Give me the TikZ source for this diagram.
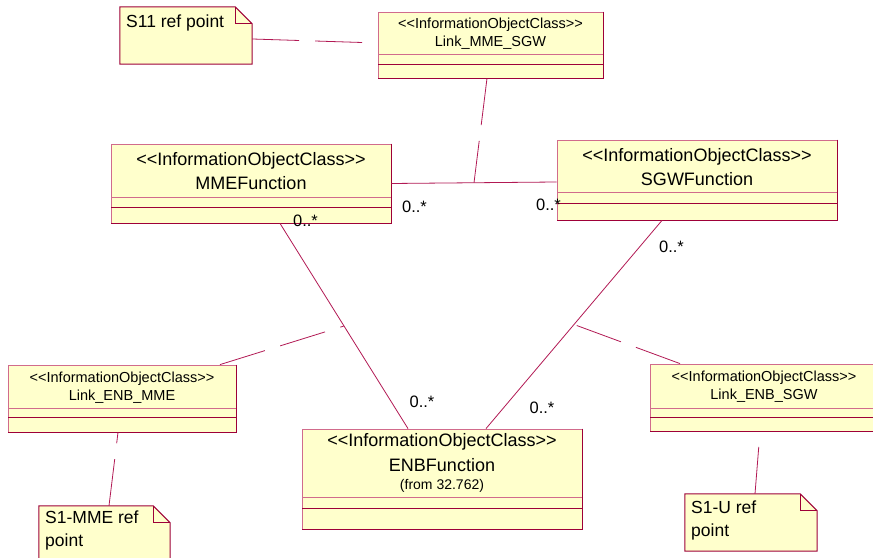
\documentclass[tikz,border=0pt]{standalone}
\usepackage{fontspec}
\setmainfont{Liberation Sans}
\usepackage{tikz}
\usetikzlibrary{arrows}
\usetikzlibrary{positioning}
\usetikzlibrary{calc}
\definecolor{strokecol}{rgb}{0.62,0.0,0.22}
\definecolor{lightcol}{rgb}{0.82,0.42,0.55}
\definecolor{fillcol}{rgb}{1.0,1.0,0.8}
\definecolor{linkcol}{rgb}{0.70,0.10,0.33}
\tikzset{classbox/.style={fill=fillcol, draw=lightcol, line width=0.8bp, inner sep=0pt},
  notebox/.style={inner sep=0pt},
  txt/.style={inner sep=0pt, text=black},
  assoc/.style={draw=linkcol, line width=0.8bp},
  anchorline/.style={draw=linkcol, line width=0.8bp, dash pattern=on 47bp off 16bp}}
\newcommand{\bigtxt}{\fontsize{18bp}{22bp}\selectfont}
\newcommand{\smalltxt}{\fontsize{14.5bp}{18bp}\selectfont}
\newcommand{\fromtxt}{\fontsize{14bp}{17bp}\selectfont}
\newcommand{\multtxt}{\fontsize{16.5bp}{19bp}\selectfont}
\newcommand{\notetxt}{\fontsize{17.5bp}{23bp}\selectfont}
\newcommand{\ioc}{<{}<InformationObjectClass>{}>}

\begin{document}
\begin{tikzpicture}[>=latex,line join=miter,]
%%
\begin{scope}
  \definecolor{bgcol}{rgb}{1.0,1.0,1.0};
  \fill[bgcol] (0.0bp,0.0bp) -- (0.0bp,558.0bp) -- (873.0bp,558.0bp) -- (873.0bp,0.0bp) -- cycle;
\end{scope}
\useasboundingbox (0.0bp,0.0bp) rectangle (873.0bp,558.0bp);
%% classes
  \node (lmsgw) at (490.5bp,513.0bp) [classbox,minimum width=225bp,minimum height=66bp] {};
  \node (mme) at (251.0bp,374.5bp) [classbox,minimum width=280bp,minimum height=79bp] {};
  \node (sgw) at (697.0bp,378.0bp) [classbox,minimum width=280bp,minimum height=80bp] {};
  \node (enb) at (442.0bp,79.0bp) [classbox,minimum width=280bp,minimum height=100bp] {};
  \node (lemme) at (122.0bp,159.5bp) [classbox,minimum width=228bp,minimum height=67bp] {};
  \node (lesgw) at (764.0bp,160.5bp) [classbox,minimum width=228bp,minimum height=67bp] {};
  \foreach \c in {lmsgw,mme,sgw,enb,lemme,lesgw}
    \draw[strokecol,line width=1.5bp] (\c.north east) -- (\c.south east) -- (\c.south west);
  \draw[lightcol,line width=0.8bp] (378.0bp,504.0bp) -- (603.0bp,504.0bp);
  \draw[strokecol,line width=0.8bp] (378.0bp,494.0bp) -- (603.0bp,494.0bp);
  \draw[lightcol,line width=0.8bp] (111.0bp,361.0bp) -- (391.0bp,361.0bp);
  \draw[strokecol,line width=0.8bp] (111.0bp,351.0bp) -- (391.0bp,351.0bp);
  \draw[lightcol,line width=0.8bp] (557.0bp,366.0bp) -- (837.0bp,366.0bp);
  \draw[strokecol,line width=0.8bp] (557.0bp,355.0bp) -- (837.0bp,355.0bp);
  \draw[lightcol,line width=0.8bp] (302.0bp,61.0bp) -- (582.0bp,61.0bp);
  \draw[strokecol,line width=0.8bp] (302.0bp,50.0bp) -- (582.0bp,50.0bp);
  \draw[lightcol,line width=0.8bp] (8.0bp,150.0bp) -- (236.0bp,150.0bp);
  \draw[strokecol,line width=0.8bp] (8.0bp,141.0bp) -- (236.0bp,141.0bp);
  \draw[lightcol,line width=0.8bp] (650.0bp,150.0bp) -- (878.0bp,150.0bp);
  \draw[strokecol,line width=0.8bp] (650.0bp,141.0bp) -- (878.0bp,141.0bp);
%% class texts
  \node (lmsgw_st) at (490.5bp,533.0bp) [txt,font=\smalltxt] {\ioc};
  \node (lmsgw_nm) at (490.5bp,515.0bp) [txt,font=\smalltxt] {Link\_MME\_SGW};
  \node (mme_st) at (251.0bp,397.0bp) [txt,font=\bigtxt] {\ioc};
  \node (mme_nm) at (251.0bp,375.0bp) [txt,font=\bigtxt] {MMEFunction};
  \node (sgw_st) at (697.0bp,401.0bp) [txt,font=\bigtxt] {\ioc};
  \node (sgw_nm) at (697.0bp,379.0bp) [txt,font=\bigtxt] {SGWFunction};
  \node (enb_st) at (442.0bp,116.0bp) [txt,font=\bigtxt] {\ioc};
  \node (enb_nm) at (442.0bp,93.0bp) [txt,font=\bigtxt] {ENBFunction};
  \node (enb_from) at (442.0bp,72.0bp) [txt,font=\fromtxt] {(from 32.762)};
  \node (lemme_st) at (122.0bp,179.0bp) [txt,font=\smalltxt] {\ioc};
  \node (lemme_nm) at (122.0bp,161.0bp) [txt,font=\smalltxt] {Link\_ENB\_MME};
  \node (lesgw_st) at (764.0bp,180.0bp) [txt,font=\smalltxt] {\ioc};
  \node (lesgw_nm) at (764.0bp,162.0bp) [txt,font=\smalltxt] {Link\_ENB\_SGW};
%% notes
  \node (s11) at (186.0bp,522.5bp) [notebox,minimum width=132bp,minimum height=57bp] {};
  \node (s1mme) at (104.5bp,23.5bp) [notebox,minimum width=131bp,minimum height=57bp] {};
  \node (s1u) at (751.0bp,35.5bp) [notebox,minimum width=132bp,minimum height=57bp] {};
  \foreach \n in {s11,s1mme,s1u} {
    \filldraw[fill=fillcol,draw=strokecol,line width=1bp] (\n.south west) -- (\n.north west) -- ([xshift=-17bp]\n.north east)
      -- ([yshift=-17bp]\n.north east) -- (\n.south east) -- cycle;
    \draw[strokecol,line width=0.8bp] ([xshift=-17bp]\n.north east) -- ([xshift=-17bp,yshift=-17bp]\n.north east)
      -- ([yshift=-17bp]\n.north east);
  }
  \node (s11_txt) at (126.0bp,535.0bp) [txt,font=\notetxt,anchor=west] {S11 ref point};
  \node (s1mme_txt) at (45.0bp,47.0bp) [txt,font=\notetxt,anchor=north west,align=left] {S1-MME ref\\point};
  \node (s1u_txt) at (691.0bp,57.0bp) [txt,font=\notetxt,anchor=north west,align=left] {S1-U ref\\point};
%% associations
  \draw [assoc] (mme.east) -- ([yshift=-2bp]sgw.west) coordinate[midway] (ms_mid);
  \draw [assoc] ([xshift=29bp]mme.south) -- ([xshift=-34bp]enb.north) coordinate[midway] (me_mid);
  \draw [assoc] ([xshift=-35bp]sgw.south) -- ([xshift=44bp]enb.north) coordinate[midway] (se_mid);
  \draw (414.5bp,351.0bp) node [font=\multtxt] {0..*};
  \draw (548.5bp,353.0bp) node [font=\multtxt] {0..*};
  \draw (305.5bp,337.0bp) node [font=\multtxt] {0..*};
  \draw (671.5bp,311.0bp) node [font=\multtxt] {0..*};
  \draw (422.0bp,156.0bp) node [font=\multtxt] {0..*};
  \draw (542.0bp,150.0bp) node [font=\multtxt] {0..*};
%% anchor lines
  \draw [anchorline] ([yshift=-3.5bp]s11.east) -- ([yshift=2bp]lmsgw.west);
  \draw [anchorline] ([xshift=-3.5bp]lmsgw.south) -- (ms_mid);
  \draw [anchorline] ([xshift=98bp]lemme.north) -- (me_mid);
  \draw [anchorline] ([xshift=-84bp]lesgw.north) -- (se_mid);
  \draw [anchorline] ([xshift=4.5bp]s1mme.north) -- ([xshift=-4bp]lemme.south);
  \draw [anchorline] ([xshift=4bp]s1u.north) -- ([xshift=-4bp]lesgw.south);
%
\end{tikzpicture}
\end{document}
